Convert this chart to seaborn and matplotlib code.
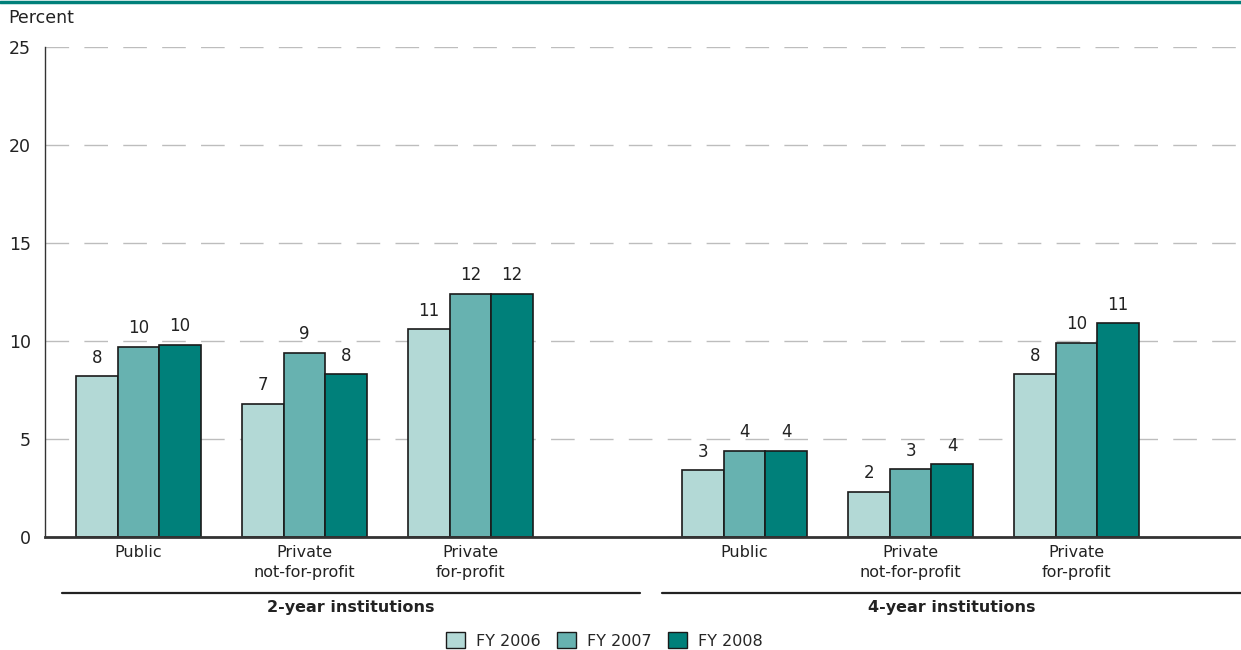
import pandas as pd
import numpy as np
import matplotlib.pyplot as plt
import seaborn as sns
from matplotlib.patches import Patch
from matplotlib.lines import Line2D
import matplotlib.transforms as mtransforms

# valeurs (pourcentage)
categories = ["Public", "Private\nnot-for-profit", "Private\nfor-profit",
              "Public", "Private\nnot-for-profit", "Private\nfor-profit"]
niveaux = ["2-year institutions"] * 3 + ["4-year institutions"] * 3
annees = ["FY 2006", "FY 2007", "FY 2008"]
fy2006 = [8.2, 6.8, 10.6, 3.4, 2.3, 8.3]
fy2007 = [9.7, 9.4, 12.4, 4.4, 3.45, 9.9]
fy2008 = [9.8, 8.3, 12.4, 4.4, 3.7, 10.9]

couleurs = ["#b3d9d6", "#67b2b0", "#00807a"]
ecart = 0.65  # espace en plus entre les deux niveaux

# position de chaque groupe
pos = []
for i, niv in enumerate(niveaux):
    pos.append(i + (ecart if niv == niveaux[-1] else 0))

df = pd.DataFrame({
    "pos": pos * 3,
    "valeur": fy2006 + fy2007 + fy2008,
    "annee": [a for a in annees for _ in range(len(pos))],
})

sns.set_style("white")
plt.rcParams["font.family"] = ["DejaVu Sans"]
plt.rcParams["lines.scale_dashes"] = False

fig = plt.figure(figsize=(12.41, 6.5), dpi=100)
ax = fig.add_axes([45 / 1241, 1 - 537 / 650, 1 - 45 / 1241, 490 / 650])

sns.barplot(data=df, x="pos", y="valeur", hue="annee", hue_order=annees,
            palette=couleurs, saturation=1, native_scale=True, width=0.75,
            edgecolor="#1a1a1a", linewidth=1.2, legend=False, ax=ax)

for cont in ax.containers:
    ax.bar_label(cont, fmt="%.0f", padding=7, fontsize=12, color="#222222")

ax.set_ylim(0, 25)
ax.set_xlim(-0.563, 6.64)
ax.set_yticks([0, 5, 10, 15, 20, 25])
ax.set_xticks(pos)
ax.set_xticklabels(categories, fontsize=11.5, color="#222222", linespacing=1.35)
ax.tick_params(axis="y", length=0, pad=10, labelsize=12.5, labelcolor="#222222")
ax.tick_params(axis="x", length=0, pad=6)
ax.set_xlabel("")
ax.set_ylabel("")

ax.set_axisbelow(True)
ax.yaxis.grid(True, color="#bdbdbd", linewidth=1.0, linestyle=(0, (17, 11)))
for s in ["top", "right"]:
    ax.spines[s].set_visible(False)
ax.spines["left"].set_color("#333333")
ax.spines["left"].set_linewidth(1.0)
ax.spines["bottom"].set_color("#333333")
ax.spines["bottom"].set_linewidth(2.0)

# traits et titres des deux niveaux
trans = mtransforms.blended_transform_factory(ax.transData, ax.transAxes)
bornes = [(-0.46, 3.02), (3.15, 6.64)]
for (x0, x1), nom in zip(bornes, ["2-year institutions", "4-year institutions"]):
    ax.add_line(Line2D([x0, x1], [-0.114, -0.114], transform=trans, color="#222222",
                       linewidth=1.6, clip_on=False))
    ax.text((x0 + x1) / 2, -0.128, nom, transform=trans, ha="center", va="top",
            fontsize=11.5, fontweight="semibold", color="#222222")

fig.text(8 / 1241, 1 - 18 / 650, "Percent", fontsize=12.5, va="center", color="#222222")
fig.add_artist(Line2D([0, 1], [0.997, 0.997], color="#00807a", linewidth=2.5))

poignees = [Patch(facecolor=c, edgecolor="#1a1a1a", linewidth=1.0) for c in couleurs]
fig.legend(poignees, annees, loc="lower center", bbox_to_anchor=(0.487, -0.02),
           ncol=3, frameon=False, fontsize=11.5, handlelength=1.2, handleheight=1.2,
           columnspacing=1.0, handletextpad=0.7)

fig.savefig("out.png", dpi=100)
